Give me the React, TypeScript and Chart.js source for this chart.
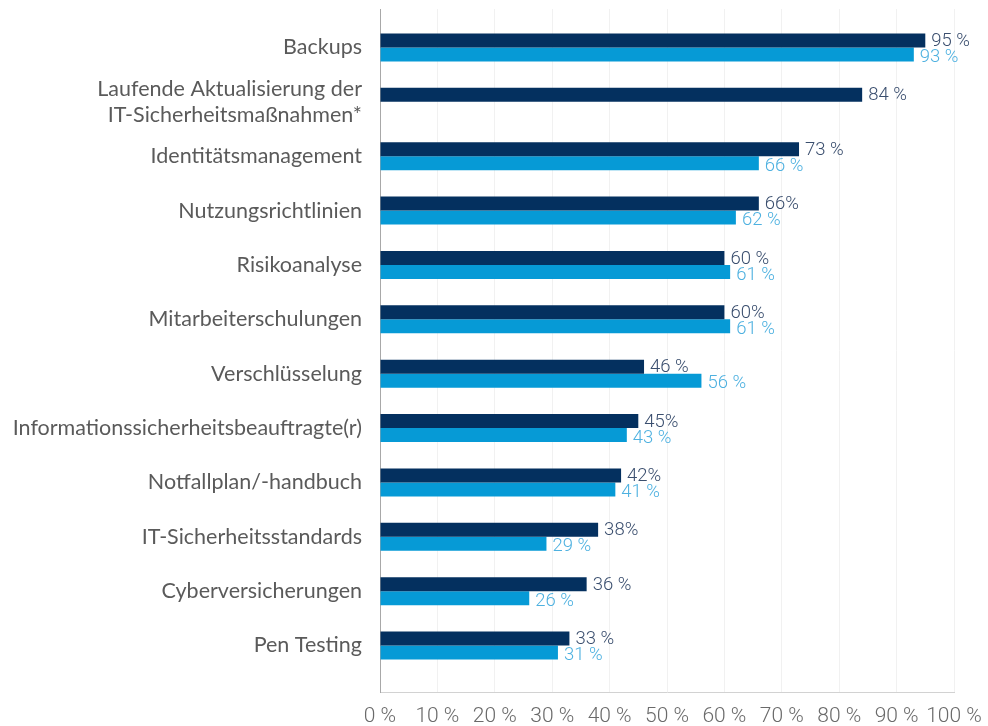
import React, { useEffect, useRef } from "react";
import { Chart, registerables } from "chart.js";

Chart.register(...registerables);

const categories = [
  "Backups",
  "Laufende Aktualisierung der\nIT-Sicherheitsmaßnahmen*",
  "Identitätsmanagement",
  "Nutzungsrichtlinien",
  "Risikoanalyse",
  "Mitarbeiterschulungen",
  "Verschlüsselung",
  "Informationssicherheitsbeauftragte(r)",
  "Notfallplan/-handbuch",
  "IT-Sicherheitsstandards",
  "Cyberversicherungen",
  "Pen Testing",
];
const seriesA: (number | null)[] = [95, 84, 73, 66, 60, 60, 46, 45, 42, 38, 36, 33];
const seriesB: (number | null)[] = [93, null, 66, 62, 61, 61, 56, 43, 41, 29, 26, 31];
const labelsA = ["95 %", "84 %", "73 %", "66%", "60 %", "60%", "46 %", "45%", "42%", "38%", "36 %", "33 %"];
const labelsB = ["93 %", "", "66 %", "62 %", "61 %", "61 %", "56 %", "43 %", "41 %", "29 %", "26 %", "31 %"];
const xTickValues = [0, 10, 20, 30, 40, 50, 60, 70, 80, 90, 100];

const DARK = "#04305f";
const LIGHT = "#069ad6";
const DARK_TEXT = "#3a4e6e";
const LIGHT_TEXT = "#4eb1e0";

const valueLabelPlugin = {
  id: "valueLabels",
  afterDatasetsDraw(chart: any) {
    const ctx = chart.ctx;
    const conf = [
      { texts: labelsA, color: DARK_TEXT, dy: 1 },
      { texts: labelsB, color: LIGHT_TEXT, dy: 3 },
    ];
    ctx.save();
    ctx.font = "300 18.5px Roboto";
    ctx.textBaseline = "middle";
    ctx.textAlign = "left";
    chart.data.datasets.forEach((ds: any, di: number) => {
      const meta = chart.getDatasetMeta(di);
      meta.data.forEach((el: any, i: number) => {
        const t = conf[di].texts[i];
        const v = ds.data[i];
        if (!t || v == null || v.x == null || !isFinite(el.x)) return;
        ctx.fillStyle = conf[di].color;
        ctx.fillText(t, el.x + 6, el.y + conf[di].dy);
      });
    });
    ctx.restore();
  },
};

export default function App() {
  const ref = useRef<HTMLCanvasElement | null>(null);

  useEffect(() => {
    if (!ref.current) return;
    const chart = new Chart(ref.current, {
      type: "bar",
      data: {
        datasets: [
          {
            label: "A",
            data: seriesA.map((v, i) => ({ x: v, y: i })),
            backgroundColor: DARK,
            categoryPercentage: 0.515,
            barPercentage: 1,
          },
          {
            label: "B",
            data: seriesB.map((v, i) => ({ x: v, y: i })),
            backgroundColor: LIGHT,
            categoryPercentage: 0.515,
            barPercentage: 1,
          },
        ],
      },
      options: {
        indexAxis: "y",
        animation: false,
        responsive: true,
        maintainAspectRatio: false,
        layout: { padding: { top: 9, right: 34, left: 0, bottom: 0 } },
        plugins: {
          legend: { display: false },
          tooltip: { enabled: false },
        },
        scales: {
          x: {
            type: "linear",
            min: 0,
            max: 100,
            bounds: "data",
            offset: false,
            afterBuildTicks: (scale: any) => {
              scale.ticks = xTickValues.map((v) => ({ value: v }));
            },
            afterFit: (scale: any) => {
              scale.height = 34;
              scale.paddingLeft = 0;
              scale.paddingRight = 0;
            },
            grid: { display: true, color: "#f1f1f1", drawTicks: false, offset: false },
            border: { display: true, color: "#d2d2d2" },
            ticks: {
              padding: 12,
              color: "#6a6a6a",
              font: { family: "Roboto", size: 21, weight: "300" },
              callback: (v: any) => `${v} %`,
              maxRotation: 0,
              autoSkip: false,
            },
          },
          y: {
            type: "linear",
            reverse: true,
            min: -0.708,
            max: 11.855,
            bounds: "data",
            offset: false,
            afterBuildTicks: (scale: any) => {
              scale.ticks = categories.map((_, i) => ({ value: i }));
            },
            afterFit: (scale: any) => {
              scale.width = 380;
              scale.paddingTop = 0;
              scale.paddingBottom = 0;
            },
            grid: { display: false, drawTicks: false, offset: false },
            border: { display: true, color: "#a8a8a8" },
            ticks: {
              padding: 18,
              color: "#5a5a5a",
              autoSkip: false,
              font: { family: "Lato", size: 21.5, lineHeight: 1.2 },
              callback: (v: any) => {
                const c = categories[Math.round(v)];
                return c ? c.split("\n") : "";
              },
            },
          },
        },
      },
      plugins: [valueLabelPlugin],
    } as any);
    return () => chart.destroy();
  }, []);

  return (
    <div style={{ position: "absolute", left: 0, top: 0, width: 988, height: 726, background: "#fff" }}>
      <canvas ref={ref} />
    </div>
  );
}
